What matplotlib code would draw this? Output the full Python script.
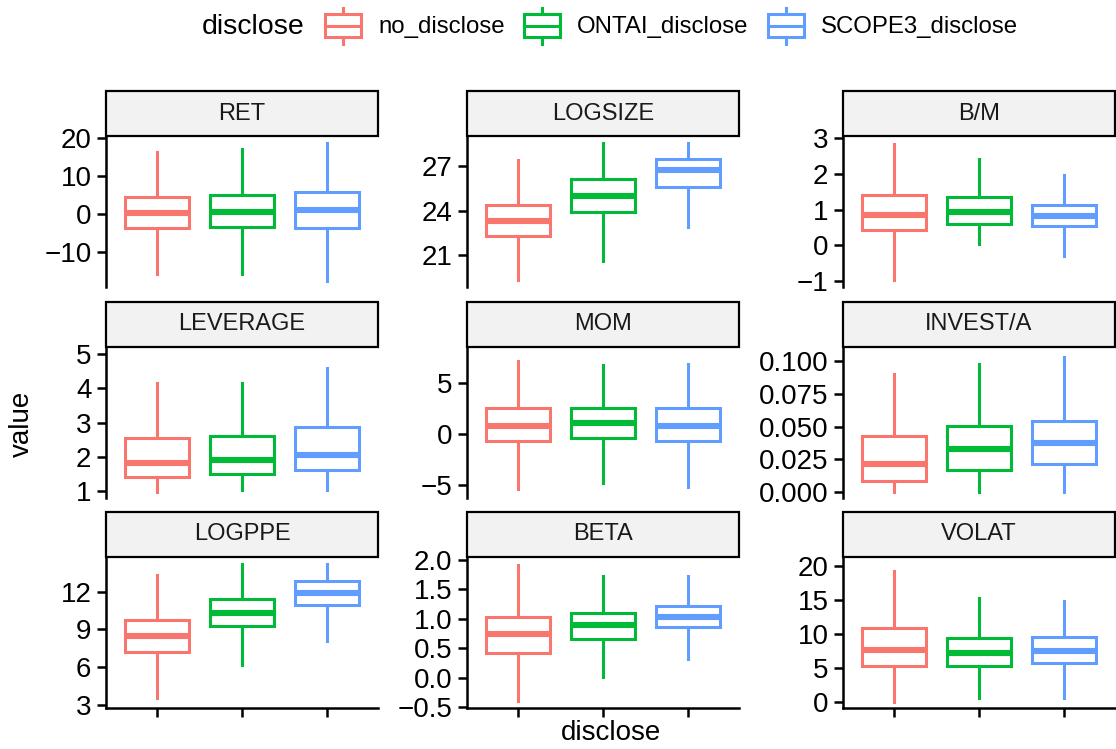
import matplotlib.pyplot as plt
from matplotlib.patches import Rectangle
from matplotlib.ticker import FuncFormatter

plt.rcParams["font.family"] = ["Liberation Sans", "DejaVu Sans"]

groups = ["no_disclose", "ONTAI_disclose", "SCOPE3_disclose"]
colors = ["#F8766D", "#00BA38", "#619CFF"]
variables = ["RET", "LOGSIZE", "B/M", "LEVERAGE", "MOM", "INVEST/A", "LOGPPE", "BETA", "VOLAT"]

# per group: [lower whisker, q1, median, q3, upper whisker]
ret = [[-15.7, -3.7, 0.3, 4.5, 16.4], [-15.7, -3.4, 0.6, 5.0, 17.3], [-17.6, -3.7, 1.1, 5.8, 18.8]]
logsize = [[19.33, 22.29, 23.29, 24.38, 27.40], [20.59, 23.95, 25.02, 26.18, 28.59], [22.89, 25.61, 26.74, 27.52, 28.59]]
bm = [[-0.98, 0.42, 0.85, 1.41, 2.85], [0.05, 0.61, 0.94, 1.36, 2.43], [-0.31, 0.55, 0.83, 1.13, 1.97]]
leverage = [[0.99, 1.42, 1.83, 2.54, 4.15], [1.03, 1.52, 1.92, 2.60, 4.15], [1.05, 1.62, 2.07, 2.86, 4.60]]
mom = [[-5.33, -0.70, 0.79, 2.62, 7.22], [-4.80, -0.36, 1.09, 2.62, 6.82], [-5.13, -0.70, 0.86, 2.55, 6.92]]
invest = [[0.0, 0.0083, 0.0216, 0.0425, 0.0904], [0.0, 0.0168, 0.0331, 0.0505, 0.0977], [0.0, 0.0212, 0.0372, 0.0546, 0.1031]]
logppe = [[3.54, 7.20, 8.50, 9.72, 13.36], [6.17, 9.24, 10.32, 11.46, 14.25], [8.11, 10.92, 11.89, 12.89, 14.25]]
beta = [[-0.395, 0.418, 0.748, 1.034, 1.914], [0.017, 0.663, 0.891, 1.103, 1.72], [0.326, 0.863, 1.034, 1.217, 1.72]]
volat = [[0.0, 5.19, 7.53, 10.85, 19.25], [0.45, 5.19, 7.18, 9.35, 15.26], [0.45, 5.69, 7.43, 9.45, 14.76]]

summaries = [ret, logsize, bm, leverage, mom, invest, logppe, beta, volat]

# axis limits / ticks per panel (free y scales)
ylims = [(-19.2, 20.6), (18.87, 29.05), (-1.17, 3.07), (0.81, 5.2), (-6.26, 8.58),
         (-0.0047, 0.1111), (2.73, 14.79), (-0.51, 2.046), (-0.95, 21.25)]
yticks = [[-10, 0, 10, 20], [21, 24, 27], [-1, 0, 1, 2, 3], [1, 2, 3, 4, 5], [-5, 0, 5],
          [0, 0.025, 0.05, 0.075, 0.1], [3, 6, 9, 12], [-0.5, 0, 0.5, 1, 1.5, 2], [0, 5, 10, 15, 20]]
ydigits = [0, 0, 0, 0, 0, 3, 0, 1, 0]


def make_fmt(nd):
    return FuncFormatter(lambda v, pos: f"{v:.{nd}f}".replace("-", "\u2212"))


W, H = 1116, 749
fig = plt.figure(figsize=(W / 100, H / 100), dpi=100)

col_left = [106, 467, 843]
row_top = [136, 347, 557]
pw, ph = 272, 151
strip_h = 45

for k, var in enumerate(variables):
    r, c = divmod(k, 3)
    x0, y0 = col_left[c], row_top[r]
    ax = fig.add_axes([x0 / W, 1 - (y0 + ph) / H, pw / W, ph / H])

    for i, s in enumerate(summaries[k]):
        stat = dict(whislo=s[0], q1=s[1], med=s[2], q3=s[3], whishi=s[4], fliers=[])
        col = colors[i]
        ax.bxp([stat], positions=[i + 1], widths=0.75, patch_artist=True,
               showcaps=False, showfliers=False,
               boxprops=dict(facecolor="white", edgecolor=col, linewidth=2.2),
               whiskerprops=dict(color=col, linewidth=2.2),
               medianprops=dict(color=col, linewidth=4.4, solid_capstyle="butt"))

    ax.set_xlim(0.4, 3.6)
    ax.set_ylim(*ylims[k])
    ax.set_yticks(yticks[k])
    ax.yaxis.set_major_formatter(make_fmt(ydigits[k]))
    for side in ["top", "right"]:
        ax.spines[side].set_visible(False)
    ax.spines["left"].set_linewidth(1.8)
    ax.spines["bottom"].set_linewidth(1.8)
    ax.tick_params(axis="y", labelsize=20, length=6.5, width=1.8, pad=4, colors="black")
    if r == 2:
        ax.set_xticks([1, 2, 3])
        ax.set_xticklabels([])
        ax.tick_params(axis="x", length=6.5, width=1.8)
    else:
        ax.spines["bottom"].set_visible(False)
        ax.set_xticks([])

    # facet strip
    fig.add_artist(Rectangle((x0 / W, 1 - y0 / H), pw / W, strip_h / H,
                             transform=fig.transFigure, facecolor="#F2F2F2",
                             edgecolor="black", linewidth=1.6))
    fig.text((x0 + pw / 2) / W, 1 - (y0 - strip_h / 2) / H, var, ha="center",
             va="center", fontsize=17, color="#1A1A1A")

# axis titles
fig.text(611 / W, 1 - 733 / H, "disclose", ha="center", va="center", fontsize=20)
fig.text(22 / W, 1 - 424 / H, "value", ha="center", va="center", fontsize=20, rotation=90)

# legend on top
lax = fig.add_axes([0, 0, 1, 1])
lax.set_xlim(0, W)
lax.set_ylim(H, 0)
lax.axis("off")
lax.text(202, 27, "disclose", ha="left", va="center", fontsize=20.5)
key_x = [325, 524, 768]
for i, g in enumerate(groups):
    kx = key_x[i]
    lax.plot([kx + 18, kx + 18], [8, 14], color=colors[i], lw=2.2)
    lax.plot([kx + 18, kx + 18], [37, 44], color=colors[i], lw=2.2)
    lax.add_patch(Rectangle((kx, 14), 36, 23, facecolor="white", edgecolor=colors[i], lw=2.2))
    lax.plot([kx, kx + 36], [25.5, 25.5], color=colors[i], lw=2.2)
    lax.text(kx + 53, 27, g, ha="left", va="center", fontsize=17.3)

fig.savefig("out.png", dpi=100)
